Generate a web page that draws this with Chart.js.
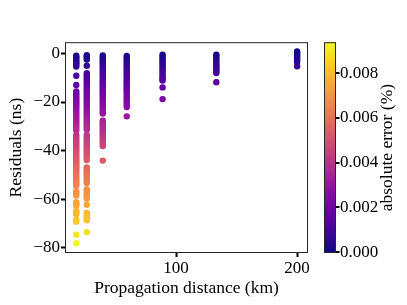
<!DOCTYPE html>
<html>
<head>
<meta charset="utf-8">
<script src="https://cdn.jsdelivr.net/npm/chart.js@4/dist/chart.umd.min.js"></script>
<style>
  html, body { margin: 0; padding: 0; background: #fff; }
</style>
</head>
<body>
<canvas id="chart" width="407" height="305"></canvas>
<script>
// propagation distances (km), one column of points per distance
const distances = [17.6, 26.3, 39.5, 59.3, 88.9, 133.3, 200];

// residuals (ns)
const res17 = [-1.0, -1.6, -2.3, -2.9, -3.5, -4.1, -4.8, -5.4, -9.2, -13.0,
  -15.7, -16.5, -17.3, -18.1, -18.9, -19.7, -20.5, -21.3, -22.1, -22.9, -23.7, -24.5, -25.3,
  -26.1, -26.9, -27.7, -28.5, -29.3, -30.1, -30.9, -31.7,
  -33.6, -34.4, -35.2, -36.0, -36.8, -37.6, -38.4, -39.2, -40.0, -40.8, -41.6, -42.4, -43.2,
  -44.0, -44.8, -45.6, -46.4, -47.2, -48.0, -48.8, -49.6, -50.4, -51.2, -52.0, -52.8, -53.6, -54.4,
  -56.8, -57.6, -58.4, -61.2, -61.9, -62.6, -64.8, -65.5, -66.2, -68.4, -69.2, -74.6, -78.1];
const res26 = [-0.7, -1.3, -1.9, -2.5, -5.1,
  -8.1, -8.9, -9.7, -10.5, -11.3, -12.1, -12.9, -13.7, -14.5, -15.3, -16.1, -16.9, -17.7, -18.5,
  -19.3, -20.1, -20.9, -21.7, -22.5, -23.3, -24.1, -24.9, -25.7, -26.5, -27.3, -28.1, -28.9,
  -29.7, -30.5, -31.3,
  -33.5, -34.3, -35.1, -35.9, -36.7, -37.5, -38.3, -39.1, -39.9, -40.7, -41.5, -42.3, -43.1, -43.9,
  -46.9, -47.7, -48.5, -49.3, -50.1, -50.9, -51.7, -52.5, -53.3,
  -56.0, -56.8, -57.6, -58.4, -59.2, -59.8, -62.3, -65.6, -66.4, -67.2, -68.0, -68.6, -73.5];
const res40 = [-0.8, -1.6, -2.4, -3.2, -4.0, -4.8, -5.6, -6.4, -7.2, -8.0, -8.8, -9.6, -10.4,
  -11.2, -12.0, -12.8, -13.6, -14.4, -15.2, -16.0, -16.8, -17.6, -18.4, -19.2, -20.0, -20.8,
  -21.6, -22.4, -23.2, -24.0, -24.7,
  -27.7, -28.5, -29.3, -30.1, -30.9, -31.7, -32.5, -33.3, -34.1, -34.9, -35.7, -36.5, -37.3, -38.1,
  -44.1];
const res59 = [-1.1, -1.9, -2.7, -3.5, -4.3, -5.1, -5.9, -6.7, -7.5, -8.3, -9.1, -9.9, -10.7,
  -11.5, -12.3, -13.1, -13.9, -14.7, -15.5, -16.3, -17.1, -17.9, -18.7, -19.5, -20.3, -21.1,
  -22.1, -25.9];
const res89 = [-0.5, -1.3, -2.1, -2.9, -3.7, -4.5, -5.3, -6.1, -6.9, -7.7, -8.5, -9.3, -10.1,
  -10.7, -11.2, -14.0, -18.8];
const res133 = [-0.5, -1.3, -2.1, -2.9, -3.7, -4.5, -5.3, -6.1, -6.9, -7.5, -8.1, -11.9];
const res200 = [0.8, 0.2, -0.4, -1.0, -1.6, -2.2, -2.8, -3.5, -5.3];
const residuals = [res17, res26, res40, res59, res89, res133, res200];

// absolute error (%) per ns of residual, used for the colour
const errPerNs = 0.00012;

const xTicks = [100, 200];
const yTicks = [0, -20, -40, -60, -80];
const errTicks = [0, 0.002, 0.004, 0.006, 0.008];
const errMin = -0.00004;
const errMax = 0.00939;

const plasma = ['#0d0887', '#41049d', '#6a00a8', '#8f0da4', '#b12a90', '#cc4778',
  '#e16462', '#f2844b', '#fca636', '#fcce25', '#f0f921'];

function hex(c) {
  return [1, 3, 5].map(i => parseInt(c.substr(i, 2), 16));
}
function plasmaColor(t) {
  t = Math.min(1, Math.max(0, t));
  const p = t * (plasma.length - 1);
  const i = Math.min(plasma.length - 2, Math.floor(p));
  const f = p - i;
  const a = hex(plasma[i]), b = hex(plasma[i + 1]);
  const c = a.map((v, k) => Math.round(v + (b[k] - v) * f));
  return `rgb(${c[0]},${c[1]},${c[2]})`;
}

const points = [];
const colors = [];
distances.forEach((d, i) => {
  residuals[i].forEach(r => {
    points.push({ x: d, y: r });
    const e = Math.abs(r) * errPerNs;
    colors.push(plasmaColor((e - errMin) / (errMax - errMin)));
  });
});

const minus = v => String(v).replace('-', '\u2212');

const FONT = '"Liberation Serif", "DejaVu Serif", serif';
Chart.defaults.font.family = FONT;
Chart.defaults.font.size = 17;
Chart.defaults.color = '#000';
const titleFont = { size: 17.5 };

const colorbar = {
  id: 'colorbar',
  afterDraw(chart) {
    const { ctx, chartArea: a } = chart;
    const cb = chart.scales.y2;
    ctx.save();
    // plot frame
    ctx.strokeStyle = '#262626';
    ctx.lineWidth = 1;
    ctx.strokeRect(a.left + 0.5, a.top + 0.5, a.right - a.left - 1, a.bottom - a.top - 1);

    // colour bar
    const x0 = cb.left + 16, w = 12;
    const g = ctx.createLinearGradient(0, cb.getPixelForValue(errMin), 0, cb.getPixelForValue(errMax));
    plasma.forEach((c, i) => g.addColorStop(i / (plasma.length - 1), c));
    ctx.fillStyle = g;
    ctx.fillRect(x0, a.top, w, a.bottom - a.top);
    ctx.strokeRect(x0 + 0.5, a.top + 0.5, w - 1, a.bottom - a.top - 1);

    ctx.strokeStyle = '#000';
    ctx.lineWidth = 2;
    errTicks.forEach(v => {
      const y = Math.round(cb.getPixelForValue(v));
      ctx.beginPath();
      ctx.moveTo(x0 + w, y);
      ctx.lineTo(x0 + w + 3.5, y);
      ctx.stroke();
    });

    ctx.fillStyle = '#000';
    ctx.font = '17.5px ' + FONT;
    ctx.textAlign = 'center';
    ctx.textBaseline = 'middle';
    ctx.translate(387, (a.top + a.bottom) / 2);
    ctx.rotate(-Math.PI / 2);
    ctx.fillText('absolute error (%)', 0, 0);
    ctx.restore();
  }
};

const tickGrid = {
  drawOnChartArea: false,
  drawTicks: true,
  tickLength: 4,
  tickWidth: 2,
  tickColor: '#000'
};

new Chart(document.getElementById('chart'), {
  type: 'scatter',
  data: {
    datasets: [{
      data: points,
      pointRadius: 3.2,
      pointHoverRadius: 3.2,
      pointBorderWidth: 0,
      pointBackgroundColor: colors
    }]
  },
  options: {
    responsive: false,
    animation: false,
    events: [],
    layout: { padding: { top: 7, left: 0, right: 0, bottom: 0 } },
    plugins: { legend: { display: false }, tooltip: { enabled: false } },
    scales: {
      x: {
        type: 'linear',
        min: 8.3,
        max: 209,
        afterBuildTicks: s => { s.ticks = xTicks.map(v => ({ value: v })); },
        afterFit: s => { s.height = 52; },
        ticks: { padding: 1, maxRotation: 0 },
        grid: tickGrid,
        border: { display: false },
        title: { display: true, text: 'Propagation distance (km)', font: titleFont, padding: { top: 0, bottom: 6 } }
      },
      y: {
        type: 'linear',
        min: -82.1,
        max: 4.6,
        afterBuildTicks: s => { s.ticks = yTicks.map(v => ({ value: v })); },
        afterFit: s => { s.width = 65; },
        ticks: { padding: 1, callback: minus },
        grid: tickGrid,
        border: { display: false },
        title: { display: true, text: 'Residuals (ns)', font: titleFont, padding: { top: 6, bottom: 0 } }
      },
      y2: {
        type: 'linear',
        position: 'right',
        min: errMin,
        max: errMax,
        afterBuildTicks: s => { s.ticks = errTicks.map(v => ({ value: v })); },
        afterFit: s => { s.width = 99; },
        ticks: { padding: 32, callback: v => v.toFixed(3) },
        grid: { display: false, drawTicks: false },
        border: { display: false }
      }
    }
  },
  plugins: [colorbar]
});
</script>
</body>
</html>
